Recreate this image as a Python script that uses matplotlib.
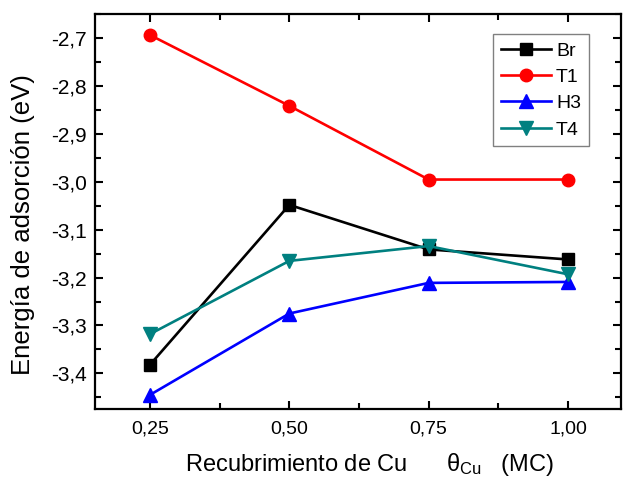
import matplotlib
matplotlib.use('Agg')
import matplotlib.pyplot as plt
from matplotlib.ticker import FuncFormatter, MultipleLocator

plt.rcParams['font.family'] = ['Liberation Sans', 'DejaVu Sans']
plt.rcParams['mathtext.fontset'] = 'custom'
plt.rcParams['mathtext.rm'] = 'Liberation Sans'
plt.rcParams['mathtext.it'] = 'Liberation Sans'

cobertura = [0.25, 0.50, 0.75, 1.00]
br = [-3.382, -3.048, -3.141, -3.162]
t1 = [-2.693, -2.841, -2.995, -2.995]
h3 = [-3.445, -3.275, -3.211, -3.209]
t4 = [-3.318, -3.165, -3.134, -3.193]

fig = plt.figure(figsize=(6.24, 4.82), dpi=100)
ax = fig.add_axes([0.152, 0.151, 0.843, 0.820])

ax.plot(cobertura, br, '-s', color='black', lw=1.9, ms=8, label='Br')
ax.plot(cobertura, t1, '-o', color='red', lw=1.9, ms=9, label='T1')
ax.plot(cobertura, h3, '-^', color='blue', lw=1.9, ms=9.5, label='H3')
ax.plot(cobertura, t4, '-v', color='#008080', lw=1.9, ms=9.5, label='T4')

ax.set_xlim(0.151, 1.095)
ax.set_ylim(-3.475, -2.649)
ax.xaxis.set_major_locator(MultipleLocator(0.25))
ax.xaxis.set_minor_locator(MultipleLocator(0.125))
ax.yaxis.set_major_locator(MultipleLocator(0.1))
ax.yaxis.set_minor_locator(MultipleLocator(0.05))
ax.xaxis.set_major_formatter(FuncFormatter(lambda v, p: f'{v:.2f}'.replace('.', ',')))
ax.yaxis.set_major_formatter(FuncFormatter(lambda v, p: f'{v:.1f}'.replace('.', ',')))
ax.tick_params(which='both', direction='in', top=True, right=True, width=1.5)
ax.tick_params(axis='x', labelsize=14, pad=8)
ax.tick_params(axis='y', labelsize=15, pad=6)
ax.tick_params(which='major', length=6)
ax.tick_params(which='minor', length=4)
for s in ax.spines.values():
    s.set_linewidth(1.6)

ax.set_xlabel('Recubrimiento de Cu      $\\theta_{\\mathrm{Cu}}$   (MC)', fontsize=17, labelpad=10)
ax.xaxis.label.set_x(0.523)
ax.set_ylabel('Energía de adsorción (eV)', fontsize=18.5, labelpad=11)
ax.yaxis.label.set_y(0.466)

leg = ax.legend(loc='upper right', bbox_to_anchor=(0.939, 0.949), borderaxespad=0,
                fontsize=14, handlelength=2.6, fancybox=False, edgecolor='gray',
                framealpha=1, borderpad=0.4, labelspacing=0.45, handletextpad=0.25)
leg.get_frame().set_linewidth(1)

fig.savefig('out.png', dpi=100)
